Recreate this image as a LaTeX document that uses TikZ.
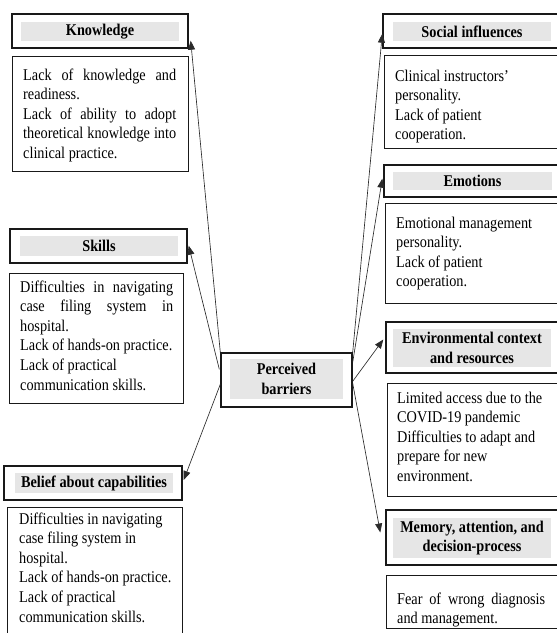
\documentclass[tikz,border=0pt]{standalone}
\usepackage{fontspec}
\setmainfont[FakeStretch=0.87]{Liberation Serif}
\usetikzlibrary{calc,arrows.meta}
\definecolor{titlegray}{HTML}{E6E6E6}
\definecolor{linegray}{HTML}{2A2A2A}
\newcommand\jline[1]{\makebox[\linewidth][s]{#1}}
\newcommand\bodyfont{\fontsize{16.4pt}{19.6pt}\selectfont}
\tikzset{
  tbox/.style={draw=black!90, line width=1.4pt, inner sep=0pt, fill=white},
  gbox/.style={fill=titlegray, inner sep=0pt, font=\fontsize{16.4pt}{19.6pt}\selectfont\bfseries, align=center},
  bbox/.style={draw=black!90, line width=1.4pt, inner sep=0pt, anchor=north west, fill=white},
  btext/.style={anchor=base west, inner sep=0pt, font=\bodyfont},
  conn/.style={draw=linegray, line width=0.65pt, -{Triangle[length=9pt,width=7pt]}}
}
\begin{document}
\begin{tikzpicture}[x=1pt,y=-1pt]
\useasboundingbox (0,0) rectangle (557,633);
\clip (0,0) rectangle (557,633);

% ---------- left column ----------
\node[tbox, minimum width=176pt, minimum height=34pt] (knowT) at (100,31) {};
\node[gbox, minimum width=158pt, minimum height=19pt] (knowG) at (100,31.5) {Knowledge};
\node[bbox, minimum width=176pt, minimum height=115pt] (knowB) at (12,56) {};
\node[btext] (knowX) at (23,80) {\parbox[t]{153pt}{\bodyfont
  \jline{Lack of knowledge and}\\
  readiness.\\
  \jline{Lack of ability to adopt}\\
  \jline{theoretical knowledge into}\\
  clinical practice.}};

\node[tbox, minimum width=177pt, minimum height=34pt] (skillT) at (98.5,246) {};
\node[gbox, minimum width=158pt, minimum height=20pt] (skillG) at (99,246) {Skills};
\node[bbox, minimum width=174pt, minimum height=130pt] (skillB) at (9,273) {};
\node[btext] (skillX) at (20,292) {\parbox[t]{153pt}{\bodyfont
  \jline{Difficulties in navigating}\\
  \jline{case filing system in}\\
  hospital.\\
  Lack of hands-on practice.\\
  Lack of practical\\
  communication skills.}};

\node[tbox, minimum width=178pt, minimum height=34pt] (belT) at (93,483) {};
\node[gbox, minimum width=158pt, minimum height=20pt] (belG) at (94,483) {Belief about capabilities};
\node[bbox, minimum width=175pt, minimum height=140pt] (belB) at (7,507) {};
\node[btext] (belX) at (19,524) {\parbox[t]{160pt}{\bodyfont
  Difficulties in navigating\\
  case filing system in\\
  hospital.\\
  Lack of hands-on practice.\\
  Lack of practical\\
  communication skills.}};

% ---------- centre ----------
\node[tbox, minimum width=131pt, minimum height=54pt] (pb) at (286.5,380) {};
\node[gbox, minimum width=113pt, minimum height=40pt] (pbG) at (286.5,379) {Perceived\\barriers};

% ---------- right column ----------
\node[tbox, minimum width=187pt, minimum height=34pt] (socT) at (476.5,31) {};
\node[gbox, minimum width=158pt, minimum height=19pt] (socG) at (472,31.5) {Social influences};
\node[bbox, minimum width=186pt, minimum height=93pt] (socB) at (384,55) {};
\node[btext] (socX) at (395,81) {\parbox[t]{150pt}{\bodyfont
  Clinical instructors’\\
  personality.\\
  Lack of patient\\
  cooperation.}};

\node[tbox, minimum width=186pt, minimum height=32pt] (emoT) at (477,181) {};
\node[gbox, minimum width=159pt, minimum height=18pt] (emoG) at (472.5,181) {Emotions};
\node[bbox, minimum width=185pt, minimum height=100pt] (emoB) at (385,203) {};
\node[btext] (emoX) at (396,228) {\parbox[t]{150pt}{\bodyfont
  Emotional management\\
  personality.\\
  Lack of patient\\
  cooperation.}};

\node[tbox, minimum width=184pt, minimum height=51pt] (envT) at (478,347.5) {};
\node[gbox, minimum width=158pt, minimum height=38pt] (envG) at (472,348) {Environmental context\\and resources};
\node[bbox, minimum width=183pt, minimum height=113pt] (envB) at (387,383) {};
\node[btext] (envX) at (397,403) {\parbox[t]{155pt}{\bodyfont
  Limited access due to the\\
  COVID-19 pandemic\\
  Difficulties to adapt and\\
  prepare for new\\
  environment.}};

\node[tbox, minimum width=184pt, minimum height=55pt] (memT) at (478,537.5) {};
\node[gbox, minimum width=158pt, minimum height=40pt] (memG) at (472,538) {Memory, attention, and\\decision-process};
\node[bbox, minimum width=184pt, minimum height=53pt] (memB) at (386,575) {};
\node[btext] (memX) at (397,604) {\parbox[t]{148pt}{\bodyfont
  \jline{Fear of wrong diagnosis}\\
  and management.}};

% ---------- connectors ----------
\draw[conn] (pb.north west) -- ($(knowT.south east)+(2,-8)$);
\draw[conn] ($(pb.north west)+(-1,17)$) -- ($(skillT.south east)+(1,-18)$);
\draw[conn] ($(pb.north west)+(0,32)$) -- ($(belT.east)+(1,-3)$);
\draw[conn] (pb.north east) -- ($(socT.south west)+(0,-15)$);
\draw[conn] ($(pb.north east)+(0,10)$) -- ($(emoT.south west)+(-1,-19)$);
\draw[conn] ($(pb.north east)+(0,29)$) -- ($(envT.west)+(-2,-8)$);
\draw[conn] ($(pb.north east)+(0,31)$) -- ($(memT.west)+(-5,-5)$);
\end{tikzpicture}
\end{document}
